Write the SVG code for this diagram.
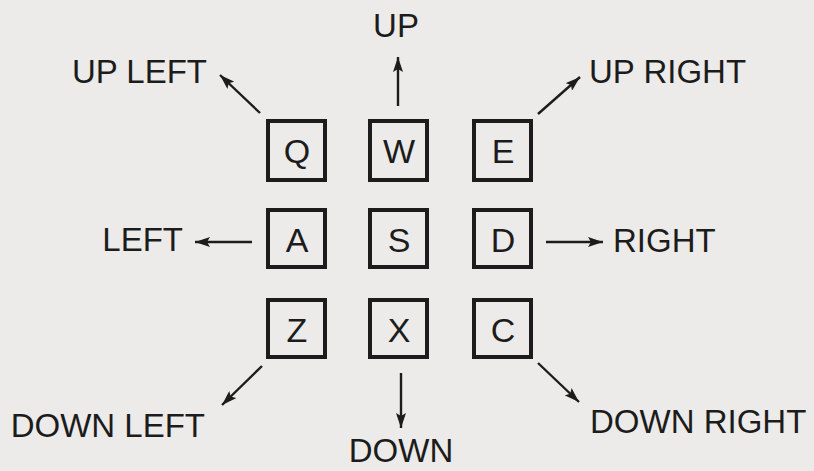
<svg xmlns="http://www.w3.org/2000/svg" width="814" height="471" viewBox="0 0 814 471">
<style>
  .bg { fill: #ecebe9; }
  .key rect { fill: none; stroke: #1c1c1c; stroke-width: 4; }
  text { font-family: "Liberation Sans", Arial, sans-serif; font-size: 33px; fill: #1c1c1c; }
  .k { text-anchor: middle; font-size: 34px; }
  .r { text-anchor: end; }
  .c { text-anchor: middle; }
  .conn line { stroke: #1c1c1c; stroke-width: 2.4; marker-end: url(#ah); }
</style>
<defs>
  <marker id="ah" markerUnits="userSpaceOnUse" viewBox="0 0 15 10" refX="15" refY="5" markerWidth="15" markerHeight="10" orient="auto">
    <path d="M0,0 L15,5 L0,10 L3,5 Z" fill="#1c1c1c"/>
  </marker>
</defs>
<rect class="bg" x="0" y="0" width="814" height="471"/>

<g id="key-Q" class="key"><rect x="268" y="121" width="57" height="59"/><text class="k" x="297" y="163">Q</text></g>
<g id="key-W" class="key"><rect x="370" y="121" width="57" height="59"/><text class="k" x="399" y="163">W</text></g>
<g id="key-E" class="key"><rect x="474" y="121" width="57" height="59"/><text class="k" x="503" y="163">E</text></g>
<g id="key-A" class="key"><rect x="268" y="210" width="57" height="57"/><text class="k" x="297" y="252">A</text></g>
<g id="key-S" class="key"><rect x="370" y="210" width="57" height="57"/><text class="k" x="399" y="252">S</text></g>
<g id="key-D" class="key"><rect x="474" y="210" width="57" height="57"/><text class="k" x="503" y="252">D</text></g>
<g id="key-Z" class="key"><rect x="268" y="300" width="57" height="57"/><text class="k" x="297" y="342">Z</text></g>
<g id="key-X" class="key"><rect x="370" y="300" width="57" height="57"/><text class="k" x="399" y="342">X</text></g>
<g id="key-C" class="key"><rect x="474" y="300" width="57" height="57"/><text class="k" x="503" y="342">C</text></g>

<g id="label-up"><text class="c" x="396" y="37">UP</text></g>
<g id="label-up-left"><text class="r" x="207" y="83">UP LEFT</text></g>
<g id="label-up-right"><text x="589" y="83">UP RIGHT</text></g>
<g id="label-left"><text class="r" x="183" y="251">LEFT</text></g>
<g id="label-right"><text x="613" y="252">RIGHT</text></g>
<g id="label-down-left"><text class="r" x="205" y="437">DOWN LEFT</text></g>
<g id="label-down-right"><text x="590" y="433">DOWN RIGHT</text></g>
<g id="label-down"><text class="c" x="401" y="462">DOWN</text></g>

<g id="connectors" class="conn">
  <line x1="398" y1="106" x2="398" y2="57"/>
  <line x1="401" y1="373" x2="401" y2="428"/>
  <line x1="252" y1="242" x2="195" y2="242"/>
  <line x1="546" y1="242" x2="603" y2="242"/>
  <line x1="260" y1="113" x2="220" y2="75"/>
  <line x1="538" y1="114" x2="580" y2="77"/>
  <line x1="262" y1="366" x2="222" y2="405"/>
  <line x1="538" y1="363" x2="579" y2="402"/>
</g>
</svg>
